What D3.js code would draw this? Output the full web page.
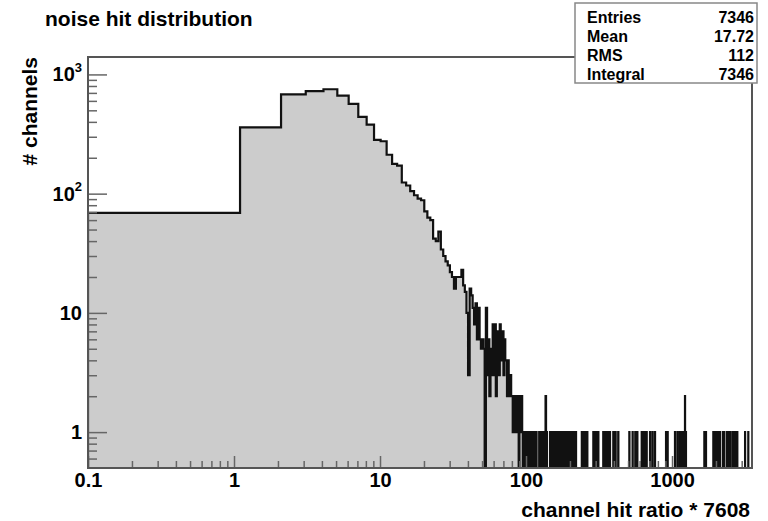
<!DOCTYPE html>
<html lang="en">
	<head>
		<meta charset="UTF-8"/>
		<title>noise hit distribution</title>
		<script type="text/javascript" src="https://cdn.jsdelivr.net/npm/d3@7"></script>
		<style>
			body { margin: 0; background: #fff; }
			svg text { font-family: "Liberation Sans", Arial, sans-serif; font-weight: bold; fill: #000; }
		</style>
	</head>
	<body>
		<script type="text/javascript">
			// channels per unit-wide bin, bin k covers [k + 0.1, k + 1.1)
			var binCounts = [
				69, 360, 680, 723, 751, 665, 566, 441, 379, 283,
				275, 212, 178, 172, 124, 117, 105, 97, 91, 88,
				71, 63, 60, 42, 40, 48, 34, 30, 27, 25,
				22, 20, 16, 20, 20, 20, 23, 17, 15, 10,
				3, 16, 14, 11, 8, 12, 6, 11, 6, 5,
				6, 5, 0, 11, 3, 6, 2, 5, 3, 8,
				3, 8, 2, 5, 7, 3, 8, 4, 7, 7,
				3, 6, 4, 4, 2, 4, 3, 2, 3, 2,
				2, 1, 2, 1, 2, 1, 1, 2, 1, 0,
				2, 1, 1, 2, 1, 0, 1, 1, 0, 1
			];
			// sparse tail above 100: one entry per channel, value = bin index
			var tailHits = [
				100, 101, 103, 104, 106, 107, 109, 110, 112, 113, 115, 117,
				123, 125, 127, 129, 131, 134, 136, 136, 138,
				146, 149, 152, 158, 161, 164, 167, 170, 174,
				180, 185, 190, 194, 200, 205, 210, 215, 219,
				241, 247, 252, 258, 262, 289, 298, 306, 312,
				338, 347, 356, 366, 375, 396, 410, 428,
				510, 537, 560, 578, 620, 638, 655, 670, 707, 735, 764,
				910, 933, 1048, 1090, 1130, 1170, 1200, 1227, 1227, 1245,
				1665, 1708, 1918, 1960, 2000, 2050, 2090, 2130,
				2230, 2270, 2370, 2430, 2495, 2590, 2650, 2720, 2800,
				3165, 3330
			];
			var xTickValues = [0.1, 1, 10, 100, 1000];
			var xTickLabels = ["0.1", "1", "10", "100", "1000"];
			var yTickValues = [1, 10, 100, 1000];
			var yTickBase = ["1", "10", "10", "10"];
			var yTickExp = ["", "", "2", "3"];
			var statNames = ["Entries", "Mean", "RMS", "Integral"];
			var statMean = "17.72";
			var statRms = "112";

			var w = 768;
			var h = 521;
			var plotLeft = 88, plotRight = 752, plotTop = 57, plotBottom = 468;
			var binOffset = 0.1;
			var xMax = 3530;

			var counts = binCounts.slice();
			var nBins = Math.ceil(xMax);
			while (counts.length < nBins) counts.push(0);
			tailHits.forEach(function(k) { counts[k] += 1; });
			var entries = d3.sum(counts);
			var statValues = [String(entries), statMean, statRms, String(entries)];

			var svg = d3.select("body")
				.append("svg")
				.attr("width", w)
				.attr("height", h);

			var xScale = d3.scaleLog()
				.domain([0.1, xMax])
				.range([plotLeft, plotRight]);

			var yScale = d3.scaleLog()
				.domain([0.5, 1400])
				.range([plotBottom, plotTop]);

			svg.append("clipPath")
				.attr("id", "plot-clip")
				.append("rect")
				.attr("x", plotLeft)
				.attr("y", plotTop)
				.attr("width", plotRight - plotLeft)
				.attr("height", plotBottom - plotTop);

			// step outline; empty bins drop just below the frame
			var floorY = plotBottom + 4;
			var pts = [[xScale(binOffset), floorY]];
			counts.forEach(function(c, k) {
				var yv = c > 0 ? yScale(c) : floorY;
				pts.push([xScale(k + binOffset), yv]);
				pts.push([xScale(Math.min(k + 1 + binOffset, xMax)), yv]);
			});
			pts.push([xScale(Math.min(nBins + binOffset, xMax)), floorY]);

			var line = d3.line();
			var plot = svg.append("g").attr("clip-path", "url(#plot-clip)");

			plot.append("path")
				.attr("d", line(pts) + "Z")
				.attr("fill", "#cccccc")
				.attr("stroke", "none");

			plot.append("path")
				.attr("d", line(pts))
				.attr("fill", "none")
				.attr("stroke", "#111")
				.attr("stroke-width", 2.2)
				.attr("stroke-linejoin", "miter");

			// minor ticks 2..9 in each decade
			var xMinor = [];
			var yMinor = [];
			[0.1, 1, 10, 100, 1000].forEach(function(d) {
				for (var m = 2; m <= 9; m++) {
					if (d * m < xMax) xMinor.push(d * m);
				}
			});
			[0.1, 1, 10, 100, 1000].forEach(function(d) {
				for (var m = 2; m <= 9; m++) {
					if (d * m > 0.5 && d * m < 1400) yMinor.push(d * m);
				}
			});

			var xAxis = d3.axisBottom(xScale)
				.tickValues(xTickValues)
				.tickFormat(function(d, i) { return xTickLabels[i]; })
				.tickSizeInner(-12)
				.tickSizeOuter(0)
				.tickPadding(5);

			var xAxisMinor = d3.axisBottom(xScale)
				.tickValues(xMinor)
				.tickFormat("")
				.tickSizeInner(-7)
				.tickSizeOuter(0);

			var yAxis = d3.axisLeft(yScale)
				.tickValues(yTickValues)
				.tickFormat("")
				.tickSizeInner(-19)
				.tickSizeOuter(0)
				.tickPadding(6);

			var yAxisMinor = d3.axisLeft(yScale)
				.tickValues(yMinor)
				.tickFormat("")
				.tickSizeInner(-9)
				.tickSizeOuter(0);

			var gx = svg.append("g")
				.attr("class", "axis")
				.attr("transform", "translate(0," + plotBottom + ")")
				.call(xAxis);
			svg.append("g")
				.attr("class", "axis")
				.attr("transform", "translate(0," + plotBottom + ")")
				.call(xAxisMinor);
			var gy = svg.append("g")
				.attr("class", "axis")
				.attr("transform", "translate(" + plotLeft + ",0)")
				.call(yAxis);
			svg.append("g")
				.attr("class", "axis")
				.attr("transform", "translate(" + plotLeft + ",0)")
				.call(yAxisMinor);

			svg.selectAll(".axis .domain").remove();
			svg.selectAll(".axis line")
				.attr("stroke", "#666")
				.attr("stroke-width", 1.5);

			gx.selectAll("text")
				.attr("font-size", "20px")
				.attr("fill", "#000");

			// y labels with superscript exponents
			gy.selectAll(".tick text")
				.attr("font-size", "20px")
				.attr("fill", "#000")
				.each(function(d, i) {
					var t = d3.select(this).text(yTickBase[i]);
					if (yTickExp[i]) {
						t.append("tspan")
							.attr("font-size", "13px")
							.attr("dy", "-0.75em")
							.text(yTickExp[i]);
					}
				});

			// frame
			svg.append("rect")
				.attr("x", plotLeft)
				.attr("y", plotTop)
				.attr("width", plotRight - plotLeft)
				.attr("height", plotBottom - plotTop)
				.attr("fill", "none")
				.attr("stroke", "#555")
				.attr("stroke-width", 2);

			svg.append("text")
				.attr("x", 45)
				.attr("y", 26)
				.attr("font-size", "21px")
				.text("noise hit distribution");

			svg.append("text")
				.attr("x", 750)
				.attr("y", 517)
				.attr("text-anchor", "end")
				.attr("font-size", "21px")
				.text("channel hit ratio * 7608");

			svg.append("text")
				.attr("transform", "translate(37," + plotTop + ") rotate(-90)")
				.attr("text-anchor", "end")
				.attr("font-size", "21px")
				.text("# channels");

			// statistics box
			var stats = svg.append("g");
			stats.append("rect")
				.attr("x", 575)
				.attr("y", 3)
				.attr("width", 182)
				.attr("height", 80)
				.attr("fill", "#fff")
				.attr("stroke", "#888")
				.attr("stroke-width", 1.5);

			stats.selectAll("text.name")
				.data(statNames)
				.enter()
				.append("text")
				.attr("class", "name")
				.attr("x", 587)
				.attr("y", function(d, i) { return 22.5 + i * 19.3; })
				.attr("font-size", "16px")
				.text(function(d) { return d; });

			stats.selectAll("text.value")
				.data(statValues)
				.enter()
				.append("text")
				.attr("class", "value")
				.attr("x", 754)
				.attr("y", function(d, i) { return 22.5 + i * 19.3; })
				.attr("text-anchor", "end")
				.attr("font-size", "16px")
				.text(function(d) { return d; });
		</script>
	</body>
</html>
